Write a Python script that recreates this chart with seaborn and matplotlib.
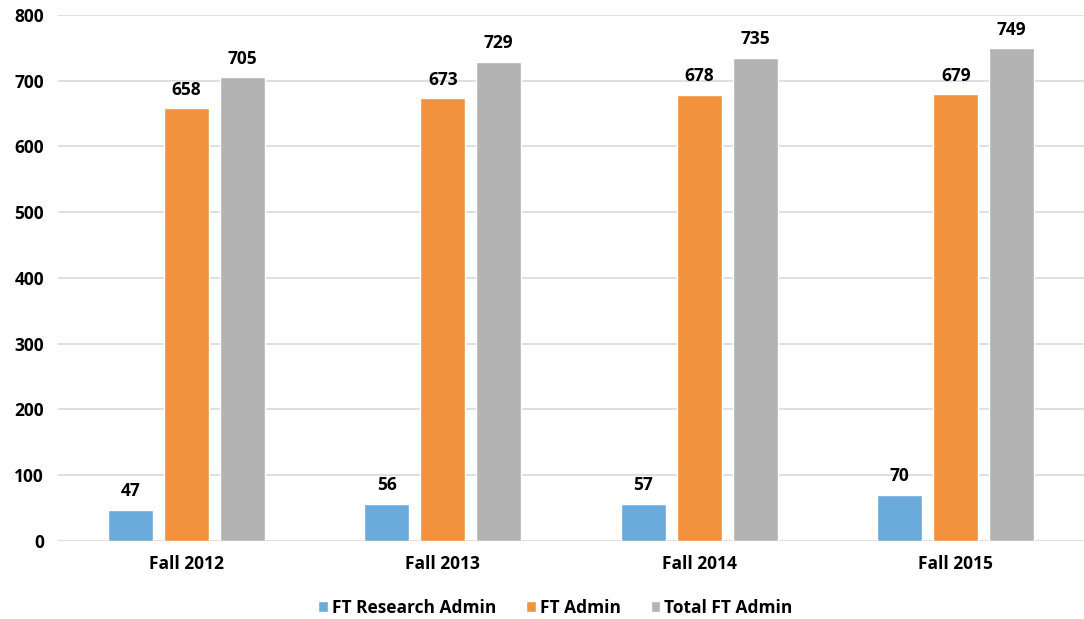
import numpy as np
import pandas as pd
import seaborn as sns
import matplotlib.pyplot as plt

# --------------------------------------------------#
# Data
# --------------------------------------------------#

terms = ["Fall 2012", "Fall 2013", "Fall 2014", "Fall 2015"]
series = ["FT Research Admin", "FT Admin", "Total FT Admin"]
research_admin = [47, 56, 57, 70]
ft_admin = [658, 673, 678, 679]
total_admin = [705, 729, 735, 749]
colors = ["#6aabdb", "#f2923e", "#b3b3b3"]

df = pd.DataFrame({
    "term": terms * 3,
    "series": np.repeat(series, len(terms)),
    "value": research_admin + ft_admin + total_admin,
})

# --------------------------------------------------#
# Plot
# --------------------------------------------------#

sns.set_theme(style="white")
plt.rcParams["font.family"] = ["Open Sans", "DejaVu Sans"]
plt.rcParams["font.weight"] = "bold"

fs = 12.5

fig = plt.figure(figsize=(10.84, 6.19), dpi=100)
ax = fig.add_axes([0.0535, 0.126, 0.9465, 0.85])

sns.barplot(data=df, x="term", y="value", hue="series", palette=colors,
            width=0.655, gap=0.2, ax=ax, legend=True, saturation=1)

for cont in ax.containers:
    ax.bar_label(cont, padding=7, fontsize=fs, fontweight="bold", color="black")

ax.set_ylim(0, 800)
ax.set_yticks(np.arange(0, 801, 100))
ax.set_xlim(-0.5, 3.5)
ax.yaxis.grid(True, color="#d9d9d9", linewidth=1.2)
ax.set_axisbelow(True)
ax.set_xlabel("")
ax.set_ylabel("")
ax.tick_params(axis="x", labelsize=fs, length=0, pad=10, labelcolor="black")
ax.tick_params(axis="y", labelsize=fs, length=0, pad=10, labelcolor="black")
for lbl in ax.get_xticklabels() + ax.get_yticklabels():
    lbl.set_fontweight("bold")
sns.despine(ax=ax, left=True, bottom=True)

leg = ax.legend(loc="upper center", bbox_to_anchor=(0.485, -0.08), ncol=3,
                frameon=False, handlelength=0.55, handleheight=0.55,
                handletextpad=0.25, columnspacing=1.7,
                prop={"weight": "bold", "size": fs})
for t in leg.get_texts():
    t.set_color("black")

fig.savefig("out.png", dpi=100)
